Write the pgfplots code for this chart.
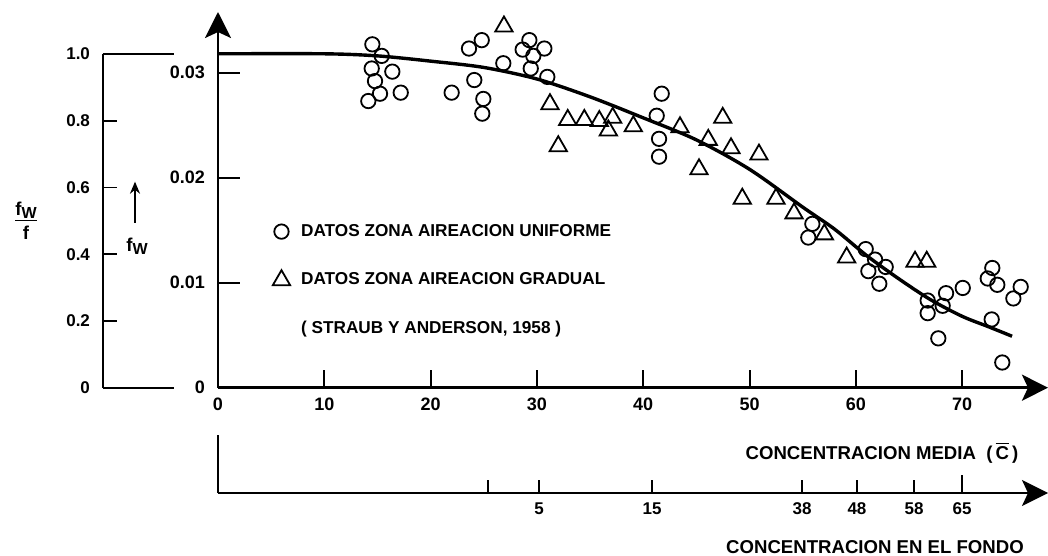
\documentclass[border=0pt]{standalone}
\usepackage{pgfplots}
\pgfplotsset{compat=1.18}
\usepackage{pgfplotstable}
\usepackage{fontspec}
\setmainfont{Liberation Sans}
\usetikzlibrary{arrows.meta}

\pgfplotstableread{
x y
14.52 0.0327
15.40 0.0316
14.46 0.0304
16.40 0.0301
14.77 0.0292
15.24 0.0280
17.19 0.0281
14.14 0.0273
23.61 0.0323
24.81 0.0331
26.84 0.0309
24.11 0.0293
21.98 0.0281
24.96 0.0275
24.86 0.0261
29.29 0.0331
28.66 0.0322
30.70 0.0323
29.66 0.0316
29.42 0.0304
30.98 0.0296
41.74 0.0280
41.27 0.0259
41.49 0.0237
41.49 0.0220
55.91 0.0156
55.53 0.0143
60.93 0.0132
61.81 0.0122
62.81 0.0115
61.18 0.0111
62.21 0.0099
66.76 0.0083
68.49 0.0090
70.06 0.0095
66.76 0.0071
68.17 0.0078
72.78 0.0065
67.76 0.0047
73.78 0.0024
72.84 0.0114
72.41 0.0104
73.31 0.0098
75.51 0.0096
74.82 0.0085
}\uniforme

\pgfplotstableread{
x y
26.90 0.0344
31.23 0.0270
32.90 0.0255
34.46 0.0255
35.87 0.0254
37.13 0.0257
36.72 0.0245
39.07 0.0249
32.01 0.0230
43.46 0.0248
47.48 0.0257
46.12 0.0236
48.26 0.0228
50.89 0.0222
45.25 0.0208
49.32 0.0180
52.49 0.0180
54.19 0.0166
57.04 0.0146
59.14 0.0124
65.57 0.0120
66.67 0.0120
}\gradual

\pgfplotstableread{
x y
0 0.0318
10 0.0318
15 0.0316
20 0.0311
25 0.0305
30 0.0294
35 0.0277
40 0.0257
45 0.0236
50 0.0208
55 0.0172
58 0.0151
61 0.0126
64 0.0104
67 0.0084
70 0.0068
72.5 0.0058
74.7 0.0049
}\curva

\newcommand{\tfont}{\bfseries\fontsize{9}{10}\selectfont}
\newcommand{\sfont}{\bfseries\fontsize{8.5}{10}\selectfont}
\newcommand{\gfont}{\bfseries\fontsize{8.6}{10}\selectfont}
\newcommand{\lfont}{\bfseries\fontsize{9.3}{11}\selectfont}

\begin{document}
\begin{tikzpicture}
\useasboundingbox (-109pt,-84.15pt) rectangle (415pt,193.85pt);

% main axis
\begin{axis}[
  at={(0pt,0pt)}, anchor=south west,
  scale only axis, width=415pt, height=187.85pt,
  xmin=0, xmax=78.08, ymin=0, ymax=0.03578,
  axis lines=left,
  axis line style={line width=1.4pt, -{Stealth[length=13pt,width=13pt,inset=3pt]}},
  xtick={0,10,20,30,40,50,60,70},
  xticklabels={0,10,20,30,40,50,60,70},
  ytick={0,0.01,0.02,0.03},
  yticklabels={0,0.01,0.02,0.03},
  scaled y ticks=false, scaled x ticks=false,
  tick align=inside,
  xtick style={/pgfplots/major tick length=9pt},
  ytick style={/pgfplots/major tick length=11pt},
  tick style={line width=1pt, black},
  ticklabel style={font=\tfont},
  /pgf/number format/assume math mode=true,
  x tick label style={yshift=-1.5pt},
  y tick label style={xshift=-3pt},
  clip=false,
  legend style={at={(axis cs:5.12,0.01600)}, anchor=north west, draw=none, fill=none,
    font=\gfont, row sep=12.8pt, inner sep=0pt, column sep=3.5pt},
  legend cell align=left,
  legend image code/.code={\draw[#1] plot coordinates {(0pt,0pt)};},
]
\addplot[only marks, mark=o, mark size=3.6pt, mark options={line width=0.9pt}, black] table {\uniforme};
\addlegendentry{DATOS ZONA AIREACION UNIFORME}
\addplot[only marks, mark=triangle, mark size=5pt, mark options={line width=0.9pt}, black] table {\gradual};
\addlegendentry{DATOS ZONA AIREACION GRADUAL}
\addplot[smooth, line width=1.7pt, black] table {\curva};
\addlegendimage{empty legend}
\addlegendentry{( STRAUB Y ANDERSON, 1958 )}
\end{axis}

% left axis f_w / f
\begin{axis}[
  at={(-57.5pt,0pt)}, anchor=south west,
  scale only axis, width=35.5pt, height=166.85pt,
  xmin=0, xmax=1, ymin=0, ymax=1,
  axis x line=none, axis y line=left,
  axis line style={line width=1pt, -},
  ytick={0,0.2,0.4,0.6,0.8,1},
  yticklabels={0,0.2,0.4,0.6,0.8,1.0},
  tick align=inside, major tick length=7pt,
  tick style={line width=0.8pt, black},
  ticklabel style={font=\sfont},
  /pgf/number format/assume math mode=true,
  y tick label style={xshift=-3pt},
  clip=false,
]
\draw[line width=1pt] (axis cs:0,1) -- (axis cs:1,1);
\draw[line width=1pt] (axis cs:0,0) -- (axis cs:1,0);
\end{axis}

% bottom axis (concentracion en el fondo)
\begin{axis}[
  at={(0pt,-52.65pt)}, anchor=south west,
  scale only axis, width=415pt, height=29pt,
  xmin=0, xmax=78.08, ymin=0, ymax=1,
  axis x line=bottom, axis y line=left,
  axis line style={line width=1.2pt, -},
  x axis line style={-{Stealth[length=13pt,width=13pt,inset=3pt]}},
  ytick=\empty,
  xtick={25.40,30.20,40.83,54.94,60.11,65.48},
  xticklabels={,5,15,38,48,58},
  extra x ticks={69.99},
  extra x tick labels={65},
  extra x tick style={/pgfplots/major tick length=9pt},
  tick align=inside, major tick length=6.5pt,
  tick style={line width=0.8pt, black},
  ticklabel style={font=\sfont},
  /pgf/number format/assume math mode=true,
  x tick label style={yshift=-1.5pt},
  clip=false,
]
\end{axis}

% labels
\node[font=\lfont] at (332pt,-32.65pt) {CONCENTRACION MEDIA\ \ (\,$\overline{\mbox{\bfseries C}}$\,)};
\node[font=\lfont] at (328.5pt,-79.65pt) {CONCENTRACION EN EL FONDO};

\node[font=\lfont, inner sep=0pt] at (-96pt,82.35pt)
  {\begin{tabular}{@{}c@{}}f\raisebox{-0.3ex}{\fontsize{8}{9}\selectfont W}\\[-1pt]\hline\rule{0pt}{9pt}f\end{tabular}};
\draw[line width=0.9pt, -{Stealth[length=6pt,width=5pt]}] (-41.5pt,82.35pt) -- (-41.5pt,103pt);
\node[font=\lfont] at (-40.5pt,70.85pt) {f\raisebox{-0.3ex}{\fontsize{8}{9}\selectfont W}};
\end{tikzpicture}
\end{document}
